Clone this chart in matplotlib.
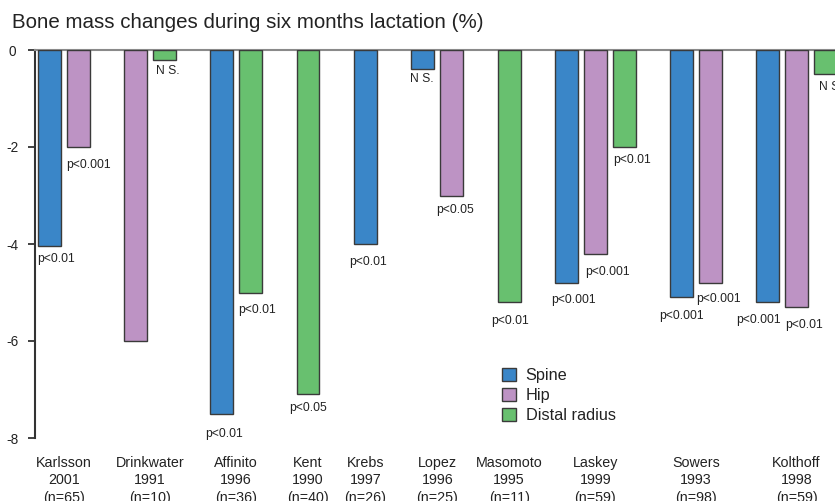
import numpy as np
import matplotlib
matplotlib.use("Agg")
import matplotlib.pyplot as plt
from matplotlib.patches import Patch

plt.rcParams['font.family'] = ['Liberation Sans', 'DejaVu Sans']

# ---------------- data ----------------
studies = ["Karlsson", "Drinkwater", "Affinito", "Kent", "Krebs",
           "Lopez", "Masomoto", "Laskey", "Sowers", "Kolthoff"]
years = ["2001", "1991", "1996", "1990", "1997", "1996", "1995", "1999", "1993", "1998"]
sizes = ["65", "10", "36", "40", "26", "25", "11", "59", "98", "59"]

series_names = ["Spine", "Hip", "Distal radius"]
nan = np.nan
spine = [-4.05, nan, -7.5, nan, -4.0, -0.4, nan, -4.8, -5.1, -5.2]
hip = [-2.0, -6.0, nan, nan, nan, -3.0, nan, -4.2, -4.8, -5.3]
radius = [nan, -0.2, -5.0, -7.1, nan, nan, -5.2, -2.0, nan, -0.5]

spine_sig = ["p<0.01", None, "p<0.01", None, "p<0.01", "N S.", None, "p<0.001", "p<0.001", "p<0.001"]
hip_sig = ["p<0.001", None, None, None, None, "p<0.05", None, "p<0.001", "p<0.001", "p<0.01"]
radius_sig = [None, "N S.", "p<0.01", "p<0.05", None, None, "p<0.01", "p<0.01", None, "N S"]

yticks = [0, -2, -4, -6, -8]

# ---------------- style / layout ----------------
colors = ["#3a86c8", "#bd93c4", "#68c06f"]
edge = "#3a3a3a"
text_color = "#222222"

# label offsets (pixels) relative to bar centre / bar bottom, per series per study
spine_off = [(7, 13), None, (2.5, 20), None, (2.5, 18), (-1, 10), None, (7, 17), (0, 19), (-9, 18)]
hip_off = [(10.5, 18), None, None, None, None, (3, 15), None, (12, 18), (8.5, 16), (8, 18)]
radius_off = [None, (3, 11), (6.5, 18), (0, 14), None, None, (1, 19), (7.5, 13), None, (4, 13)]

values = [spine, hip, radius]
sigs = [spine_sig, hip_sig, radius_sig]
offs = [spine_off, hip_off, radius_off]

fig = plt.figure(figsize=(8.35, 5.01), dpi=100)
W, H = 835, 501
ax_left, ax_right = 35, 854
ax_top, ax_bottom = 50, 438
ax = fig.add_axes([ax_left / W, 1 - ax_bottom / H, (ax_right - ax_left) / W, (ax_bottom - ax_top) / H])

slot = 0
group_centers = []
for i in range(len(studies)):
    used = []
    for s in range(3):
        v = values[s][i]
        if np.isnan(v):
            continue
        ax.bar(slot, v, width=0.8, color=colors[s], edgecolor=edge, linewidth=1.0, zorder=3)
        lab = sigs[s][i]
        if lab:
            dx, dy = offs[s][i]
            ax.annotate(lab, xy=(slot, v), xytext=(dx, -dy), textcoords='offset pixels',
                        ha='center', va='center', fontsize=8.7, color=text_color,
                        annotation_clip=False, zorder=4)
        used.append(slot)
        slot += 1
    group_centers.append(np.mean(used))
    slot += 1  # gap between studies

ax.set_xlim(-0.5, 28)
ax.set_ylim(-8, 0)

ax.set_xticks(group_centers)
ax.set_xticklabels([f"{n}\n{y}\n(n={k})" for n, y, k in zip(studies, years, sizes)],
                   fontsize=10.3, color=text_color, linespacing=1.3)
ax.tick_params(axis='x', length=0, pad=13)

ax.set_yticks(yticks)
ax.set_yticklabels([str(t) for t in yticks], fontsize=9.8, color=text_color)
ax.tick_params(axis='y', direction='out', length=5, width=1.3, color="#333333", pad=11.5)
for lbl in ax.get_yticklabels():
    lbl.set_ha('center')

for side in ['right', 'bottom']:
    ax.spines[side].set_visible(False)
ax.spines['left'].set_color("#333333")
ax.spines['left'].set_linewidth(1.5)
ax.spines['top'].set_color("#8a8a8a")
ax.spines['top'].set_linewidth(1.5)

handles = [Patch(facecolor=c, edgecolor=edge, linewidth=1.0, label=n) for c, n in zip(colors, series_names)]
fig.legend(handles=handles, loc='upper left', bbox_to_anchor=(502 / W, 1 - 368 / H),
           frameon=False, fontsize=11.7, handlelength=0.85, handleheight=0.85,
           handletextpad=0.6, labelspacing=0.3, borderpad=0, borderaxespad=0,
           labelcolor=text_color)

fig.text(12 / W, 1 - 22 / H, "Bone mass changes during six months lactation (%)",
         fontsize=14.8, color=text_color, va='center', ha='left')

fig.savefig("out.png", dpi=100)
